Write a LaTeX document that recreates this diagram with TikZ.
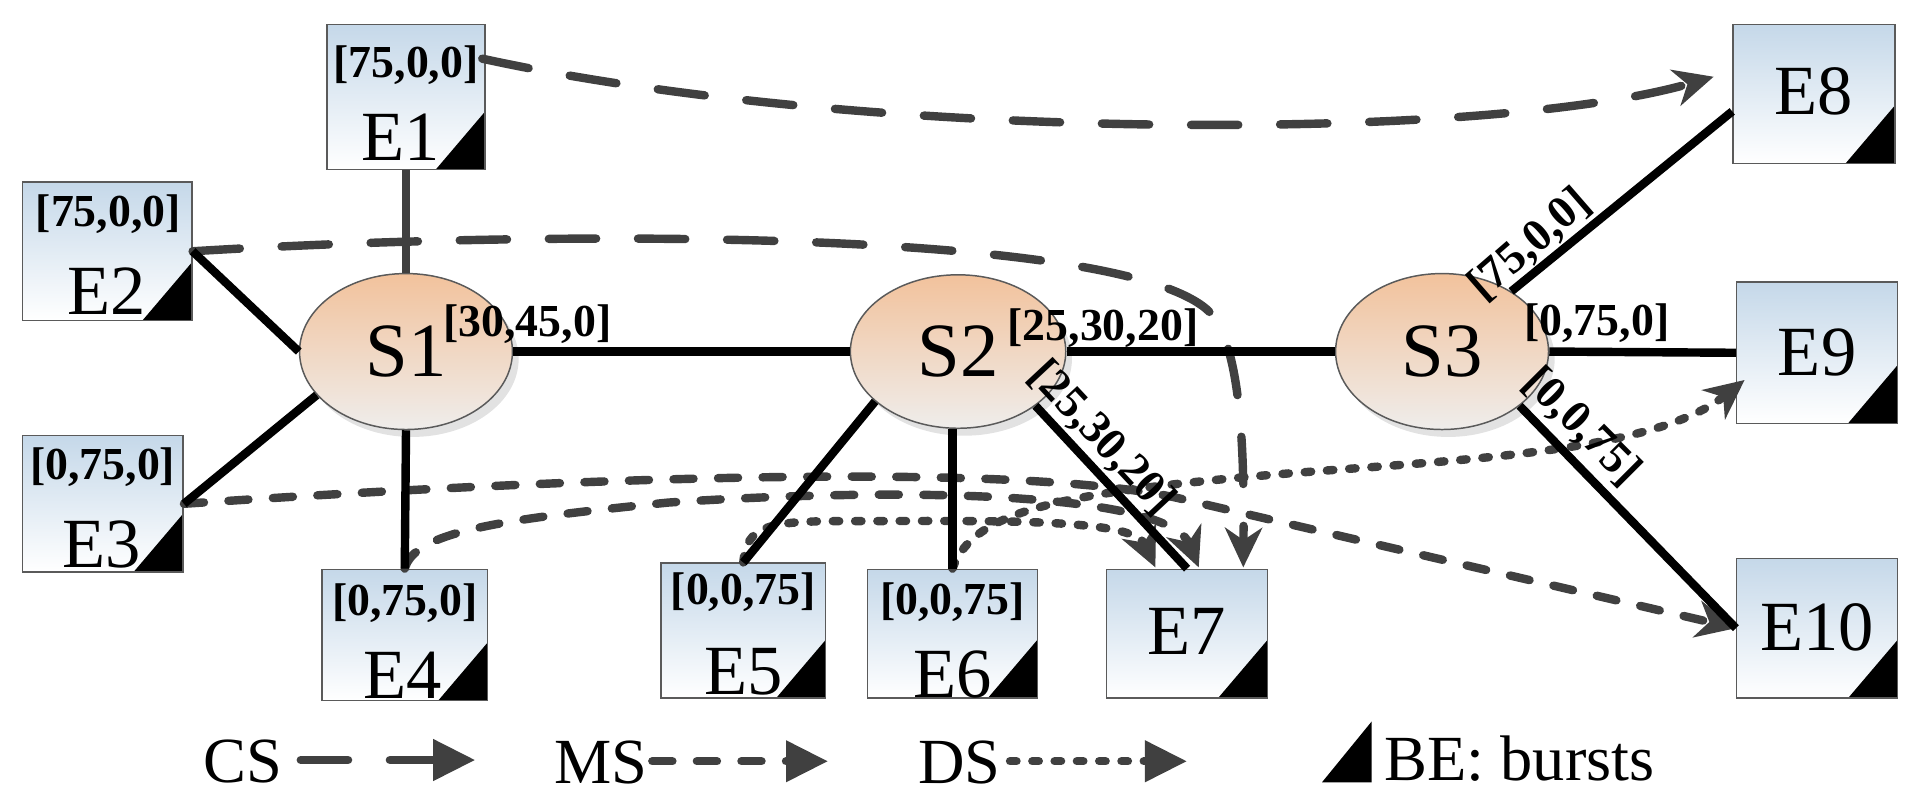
\documentclass[tikz,border=0pt]{standalone}
\usepackage{fontspec}
\setmainfont{Liberation Serif}
\usetikzlibrary{shapes.geometric,arrows.meta,calc}
\definecolor{boxtop}{HTML}{C5D8E9}
\definecolor{boxline}{HTML}{5A5A5A}
\definecolor{elltop}{HTML}{F2C29C}
\definecolor{ellbot}{HTML}{EFEDEB}
\definecolor{shad}{HTML}{E2E2E2}
\definecolor{dgray}{HTML}{404040}
\begin{document}
\begin{tikzpicture}[x=0.5pt,y=-0.5pt,
  ebox/.style={draw=boxline,line width=0.6pt,top color=boxtop,bottom color=white,
    minimum width=65pt,minimum height=56pt,inner sep=0pt,
    path picture={\fill[black] (path picture bounding box.south east) -- ++(-20pt,0pt) -- ++(20pt,23.5pt) -- cycle;}},
  sw/.style={draw=boxline,line width=0.6pt,ellipse,top color=elltop,bottom color=ellbot,
    minimum width=86pt,minimum height=63pt,inner sep=0pt,font=\fontsize{31}{33}\selectfont},
  shadowell/.style={fill=shad,ellipse,minimum width=86pt,minimum height=63pt,inner sep=0pt},
  ename/.style={font=\fontsize{28.5}{30}\selectfont,inner sep=0pt},
  rate/.style={font=\bfseries\fontsize{18.5}{20}\selectfont,inner sep=0pt},
  legtext/.style={font=\fontsize{26}{28}\selectfont,inner sep=0pt},
  link/.style={line width=3.4pt,black},
  tipc/.style={-{Stealth[length=16pt,width=15pt,inset=5pt]}},
  tipl/.style={-{Triangle[length=17pt,width=16pt]}},
  csline/.style={dgray,line width=3.4pt,line cap=round,dash pattern=on 19.1pt off 16.9pt},
  msline/.style={dgray,line width=3.4pt,line cap=round,dash pattern=on 8.1pt off 9.9pt},
  dsline/.style={dgray,line width=3.4pt,line cap=round,dash pattern=on 2.6pt off 6.4pt}
]
\useasboundingbox (0,0) rectangle (1560,652.8);

% switch positions
\coordinate (pS1) at (328,284);
\coordinate (pS2) at (774,284);
\coordinate (pS3) at (1165,284);

% shadows
\node[shadowell] (sh1) at ($(pS1)+(5,6)$) {};
\node[shadowell,minimum width=87pt,minimum height=62pt] (sh2) at ($(pS2)+(5,6)$) {};
\node[shadowell] (sh3) at ($(pS3)+(5,6)$) {};

% switches
\node[sw] (S1) at (pS1) {S1};
\node[sw,minimum width=87pt,minimum height=62pt] (S2) at (pS2) {S2};
\node[sw] (S3) at (pS3) {S3};

% end hosts
\node[ebox,minimum width=64pt,minimum height=58.5pt] (E1) at (328,78.5) {};
\node[ebox,minimum width=68.5pt] (E2) at (86.5,203) {};
\node[ebox,minimum height=55pt] (E3) at (83,407) {};
\node[ebox,minimum width=67pt,minimum height=53pt] (E4) at (327,513) {};
\node[ebox,minimum width=66.5pt,minimum height=54.5pt] (E5) at (600.5,509.5) {};
\node[ebox,minimum width=68.5pt,minimum height=52pt] (E6) at (769.5,512) {};
\node[ebox,minimum height=52pt] (E7) at (959,512) {};
\node[ebox,minimum width=65.5pt] (E8) at (1465.5,76) {};
\node[ebox,minimum height=57pt] (E9) at (1468,285) {};
\node[ebox,minimum height=56.5pt] (E10) at (1468,507.5) {};

% host texts
\node[rate] (r1) at ($(E1.north)+(0,33)$) {[75,0,0]};
\node[ename] (n1) at ($(E1.south)+(-4,-27)$) {E1};
\node[rate] (r2) at ($(E2.north)+(1,27)$) {[75,0,0]};
\node[ename] (n2) at ($(E2.south)+(0,-24)$) {E2};
\node[rate] (r3) at ($(E3.north)+(0,26)$) {[0,75,0]};
\node[ename] (n3) at ($(E3.south)+(-1,-23)$) {E3};
\node[rate] (r4) at ($(E4.north)+(0,28)$) {[0,75,0]};
\node[ename] (n4) at ($(E4.south)+(-2,-21)$) {E4};
\node[rate] (r5) at ($(E5.north)+(0,24)$) {[0,0,75]};
\node[ename] (n5) at ($(E5.south)+(0,-22)$) {E5};
\node[rate] (r6) at ($(E6.north)+(0,27)$) {[0,0,75]};
\node[ename] (n6) at ($(E6.south)+(0,-20)$) {E6};
\node[ename] (n7) at ($(E7)+(0,-2)$) {E7};
\node[ename] (n8) at ($(E8)+(0,-2)$) {E8};
\node[ename] (n9) at ($(E9)+(0,0)$) {E9};
\node[ename] (n10) at ($(E10)+(0,-1)$) {E10};

% arrow end points
\coordinate (s1) at ($(E1.north east)+(-3,28)$);
\coordinate (t8) at ($(E8.west)+(-15,-14)$);
\coordinate (t7a) at ($(E7.north west)+(40,-1)$);
\coordinate (t7b) at ($(E7.north west)+(75,-1)$);
\coordinate (t7c) at ($(E7.north west)+(111,-1)$);
\coordinate (t9) at ($(E9.west)+(7,22)$);

% CS flows
\draw[csline,tipc] (s1) .. controls (700,115) and (1200,115) .. (t8);
\draw[csline,tipc] (E2.east) .. controls (450,185) and (900,185) .. (975,250)
   .. controls (1005,276) and (1005,380) .. (t7c);
% MS flows
\draw[msline,tipc] (E3.east) .. controls (400,390) and (800,370) .. (950,402) -- (E10.west);
\draw[msline,tipc] (E4.north) .. controls (335,430) and (400,420) .. (540,406)
   .. controls (750,392) and (945,400) .. (t7b);
% DS flows
\draw[dsline,tipc] (E5.north) .. controls (603,425) and (620,421) .. (680,421)
   .. controls (800,421) and (915,418) .. (t7a);
\draw[dsline,tipc] (E6.north) .. controls (785,415) and (850,400) .. (1000,386)
   .. controls (1150,372) and (1330,370) .. (t9);

% links
\draw[link,dgray] (E1.south) -- (S1.north);
\draw[link] (E2.east) -- (S1.west);
\draw[link] (E3.east) -- (S1.206);
\draw[link] (S1.south) -- (E4.north);
\draw[link] (S1.east) -- (S2.west);
\draw[link] (S2.east) -- (S3.west);
\draw[link] (S2.211) -- (E5.north);
\draw[link] (E6.north) -- (E6.north |- S2.south);
\draw[link] (S2.325) -- (E7.north);
\draw[link] (S3.41) -- ([yshift=-7pt]E8.west);
\draw[link] (S3.east) -- (E9.west);
\draw[link] (S3.325) -- (E10.west);

% link rates
\node[rate] (q1) at (426,262) {[30,45,0]};
\node[rate] (q2) at (891,265) {[25,30,20]};
\node[rate,rotate=-47] (q3) at (890,354) {[25,30,20]};
\node[rate,rotate=41] (q4) at (1236,198) {[75,0,0]};
\node[rate] (q5) at (1290,261) {[0,75,0]};
\node[rate,rotate=-45] (q6) at (1278,345) {[0,0,75]};

% legend
\node[legtext] (lcs) at (196,615) {CS};
\coordinate (lcsa) at (243,614);
\coordinate (lcsb) at (384,614);
\draw[csline,tipl] (lcsa) -- (lcsb);
\node[legtext] (lms) at (485.5,616) {MS};
\coordinate (lmsa) at (527,615);
\coordinate (lmsb) at (669,615);
\draw[msline,tipl] (lmsa) -- (lmsb);
\node[legtext] (lds) at (775,616) {DS};
\coordinate (ldsa) at (816,615);
\coordinate (ldsb) at (959,615);
\draw[dsline,tipl] (ldsa) -- (ldsb);
\fill[black] (1068,632) -- (1108,632) -- (1108,583) -- cycle;
\node[legtext,anchor=west] (lbe) at (1118,613) {BE: bursts};
\end{tikzpicture}
\end{document}
